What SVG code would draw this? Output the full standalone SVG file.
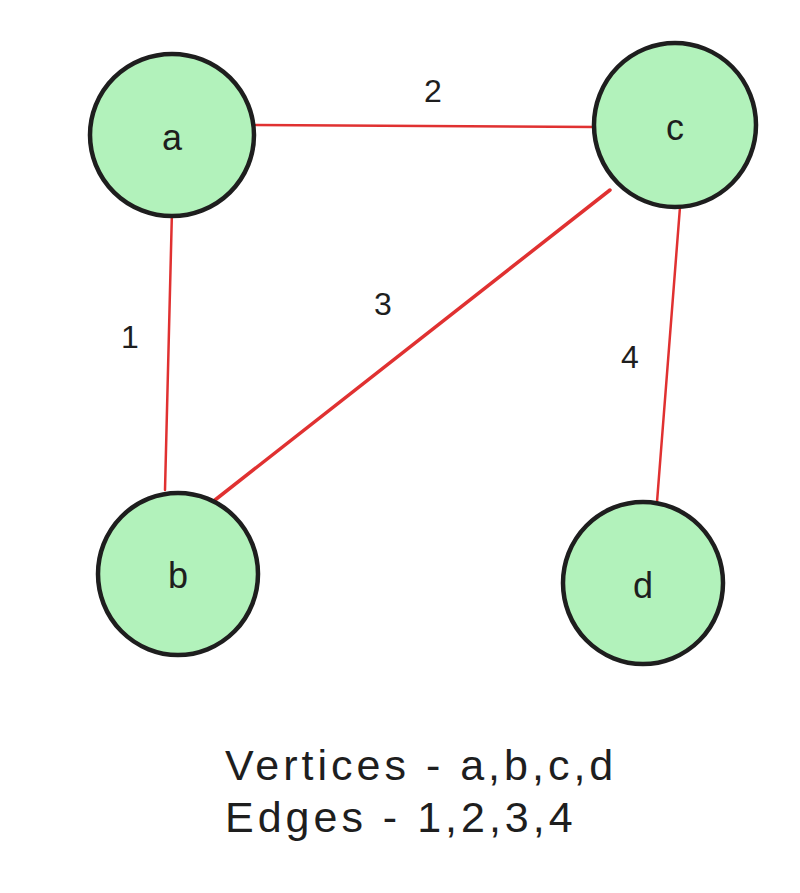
<svg xmlns="http://www.w3.org/2000/svg" width="800" height="893" viewBox="0 0 800 893">
<style>
.node{fill:#b2f2bb;stroke:#1e1e1e;stroke-width:4.5}
.edge{stroke:#e03131;stroke-width:2.5;fill:none;stroke-linecap:round}
.lbl{font-family:"Liberation Sans",sans-serif;font-size:36px;fill:#1e1e1e;text-anchor:middle}
.elbl{font-family:"Liberation Sans",sans-serif;font-size:32px;fill:#1e1e1e;text-anchor:middle}
.cap{font-family:"Liberation Sans",sans-serif;font-size:43px;letter-spacing:4px;fill:#1e1e1e}
</style>
<rect width="800" height="893" fill="#ffffff"/>
<g id="edges">
<line class="edge" x1="256" y1="125" x2="597" y2="127"/>
<line class="edge" x1="172" y1="210" x2="165" y2="490"/>
<line class="edge" x1="610" y1="190" x2="215" y2="500" style="stroke-width:3.5"/>
<line class="edge" x1="680" y1="207" x2="657" y2="502"/>
<text class="elbl" x="433" y="102">2</text>
<text class="elbl" x="130" y="348">1</text>
<text class="elbl" x="383" y="315">3</text>
<text class="elbl" x="630" y="368">4</text>
</g>
<g id="node-a">
<ellipse class="node" cx="172" cy="135" rx="82" ry="81"/>
<text class="lbl" x="172" y="150">a</text>
</g>
<g id="node-c">
<ellipse class="node" cx="675" cy="125" rx="81" ry="82"/>
<text class="lbl" x="675" y="140">c</text>
</g>
<g id="node-b">
<ellipse class="node" cx="178" cy="574" rx="80" ry="81"/>
<text class="lbl" x="178" y="588">b</text>
</g>
<g id="node-d">
<ellipse class="node" cx="643" cy="583" rx="80" ry="81"/>
<text class="lbl" x="643" y="598">d</text>
</g>
<g id="caption">
<text class="cap" x="225" y="780">Vertices - a,b,c,d</text>
<text class="cap" x="225" y="832">Edges - 1,2,3,4</text>
</g>
</svg>
